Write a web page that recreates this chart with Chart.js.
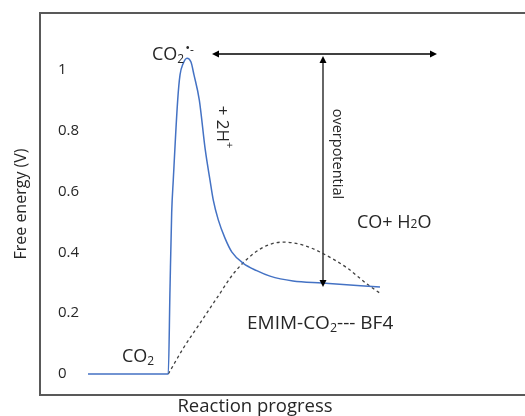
<!DOCTYPE html>
<html>
<head>
<meta charset="utf-8">
<script src="https://cdn.jsdelivr.net/npm/chart.js@4.4.1/dist/chart.umd.min.js"></script>
<style>
  html, body { margin: 0; padding: 0; background: #ffffff; }
  #wrap { width: 525px; height: 416px; }
</style>
</head>
<body>
<div id="wrap"><canvas id="c" width="525" height="416"></canvas></div>
<script>
// ---- data (reaction progress in arbitrary units, free energy in V) ----
const yTicks = [0, 0.2, 0.4, 0.6, 0.8, 1];
const yTickLabels = ['0', '0.2', '0.4', '0.6', '0.8', '1'];

const blueX = [9.9, 26.45, 26.8, 27.15, 27.48, 28.39, 28.87, 29.48, 30.31, 31.13, 31.75, 32.85, 34.08, 35.05, 35.73, 36.76, 38.14, 39.53, 41.92, 44.68, 47.42, 52.16, 58.14, 70.1];
const blueY = [0, 0, 0.276, 0.53, 0.638, 0.901, 0.984, 1.02, 1.039, 1.026, 0.984, 0.901, 0.737, 0.638, 0.572, 0.507, 0.447, 0.402, 0.364, 0.34, 0.322, 0.306, 0.299, 0.286];

const dashX = [26.45, 29.55, 32.99, 36.43, 40.21, 45.36, 50.1, 54.23, 58.14, 63.3, 67.42, 70.1];
const dashY = [0, 0.085, 0.167, 0.249, 0.3365, 0.411, 0.434, 0.424, 0.398, 0.349, 0.296, 0.266];

const xTitle = 'Reaction progress';
const yTitle = 'Free energy (V)';

const toPts = (xs, ys) => xs.map((x, i) => ({ x: x, y: ys[i] }));

const FONT = '"Open Sans", "Noto Sans", sans-serif';
const TXT = '#262626';

function arrowHead(ctx, x, y, dir) {
  const L = 7, W = 3.5;
  ctx.beginPath();
  if (dir === 'left') { ctx.moveTo(x, y); ctx.lineTo(x + L, y - W); ctx.lineTo(x + L, y + W); }
  if (dir === 'right') { ctx.moveTo(x, y); ctx.lineTo(x - L, y - W); ctx.lineTo(x - L, y + W); }
  if (dir === 'up') { ctx.moveTo(x, y); ctx.lineTo(x - W, y + L); ctx.lineTo(x + W, y + L); }
  if (dir === 'down') { ctx.moveTo(x, y); ctx.lineTo(x - W, y - L); ctx.lineTo(x + W, y - L); }
  ctx.closePath();
  ctx.fill();
}

function measureRich(ctx, parts) {
  let w = 0;
  parts.forEach(p => { ctx.font = p.size + 'px ' + FONT; w += ctx.measureText(p.t).width + (p.gap || 0); });
  return w;
}
// draws pieces [{t, size, dy}] left to right
function richText(ctx, x, y, parts) {
  let cx = x;
  parts.forEach(p => {
    ctx.font = p.size + 'px ' + FONT;
    ctx.fillText(p.t, cx, y + (p.dy || 0));
    cx += ctx.measureText(p.t).width + (p.gap || 0);
  });
}

const annotPlugin = {
  id: 'annot',
  afterDraw(chart) {
    const ctx = chart.ctx;
    const xs = chart.scales.x, ys = chart.scales.y;
    const a = chart.chartArea;
    const X = v => xs.getPixelForValue(v), Y = v => ys.getPixelForValue(v);
    ctx.save();
    // frame (top, left, bottom)
    ctx.strokeStyle = '#595959';
    ctx.lineWidth = 2;
    ctx.beginPath();
    ctx.moveTo(chart.width, a.top);
    ctx.lineTo(a.left, a.top);
    ctx.lineTo(a.left, a.bottom);
    ctx.lineTo(chart.width, a.bottom);
    ctx.stroke();

    // arrows
    ctx.strokeStyle = '#000';
    ctx.fillStyle = '#000';
    ctx.lineWidth = 1.5;
    const hy = Y(1.0526), hx1 = X(35.46), hx2 = X(81.86);
    ctx.beginPath(); ctx.moveTo(hx1 + 4, hy); ctx.lineTo(hx2 - 4, hy); ctx.stroke();
    arrowHead(ctx, hx1, hy, 'left');
    arrowHead(ctx, hx2, hy, 'right');
    const vx = X(58.35), vy1 = Y(1.0526) + 2, vy2 = Y(0.286);
    ctx.strokeStyle = '#333';
    ctx.beginPath(); ctx.moveTo(vx, vy1 + 4); ctx.lineTo(vx, vy2 - 4); ctx.stroke();
    arrowHead(ctx, vx, vy1, 'up');
    arrowHead(ctx, vx, vy2, 'down');

    // texts
    ctx.fillStyle = TXT;
    ctx.textBaseline = 'alphabetic';
    ctx.textAlign = 'left';
    richText(ctx, X(23.09), Y(1.054) + 6.5, [
      { t: 'CO', size: 18 }, { t: '2', size: 12, dy: 3, gap: 1 }, { t: '•', size: 13, dy: -8 }, { t: '-', size: 12, dy: -6 }
    ]);
    richText(ctx, X(16.91), Y(0.0625) + 6.5, [
      { t: 'CO', size: 18 }, { t: '2', size: 12, dy: 3 }
    ]);
    richText(ctx, X(42.68), Y(0.171) + 6.5, [
      { t: 'EMIM-CO', size: 19 }, { t: '2', size: 12.5, dy: 3 }, { t: '--- BF4', size: 19 }
    ]);
    richText(ctx, X(65.36), Y(0.503) + 6.5, [
      { t: 'CO+ H', size: 18 }, { t: '2', size: 12, dy: 0 }, { t: 'O', size: 18 }
    ]);

    // rotated texts
    ctx.save();
    ctx.translate(X(37.53), Y(0.8125));
    ctx.rotate(Math.PI / 2);
    ctx.textBaseline = 'middle';
    const p1 = [{ t: '+ 2H', size: 17 }, { t: '+', size: 11, dy: -7 }];
    richText(ctx, -measureRich(ctx, p1) / 2, 0, p1);
    ctx.restore();

    ctx.save();
    ctx.translate(X(61.24), Y(0.724));
    ctx.rotate(Math.PI / 2);
    ctx.textBaseline = 'middle';
    ctx.textAlign = 'center';
    ctx.font = '14.5px ' + FONT;
    ctx.fillText('overpotential', 0, 0);
    ctx.restore();

    // x title
    ctx.textAlign = 'center';
    ctx.textBaseline = 'middle';
    ctx.font = '18.5px ' + FONT;
    ctx.fillText(xTitle, 255, 407);
    ctx.restore();
  }
};

new Chart(document.getElementById('c'), {
  type: 'scatter',
  data: {
    datasets: [
      {
        label: 'CO2 pathway',
        data: toPts(blueX, blueY),
        showLine: true,
        borderColor: '#4472C4',
        borderWidth: 1.5,
        pointRadius: 0,
        cubicInterpolationMode: 'monotone',
        fill: false
      },
      {
        label: 'EMIM-CO2 pathway',
        data: toPts(dashX, dashY),
        showLine: true,
        borderColor: '#404040',
        borderWidth: 1.3,
        borderDash: [3, 3],
        pointRadius: 0,
        cubicInterpolationMode: 'monotone',
        fill: false
      }
    ]
  },
  options: {
    responsive: false,
    animation: false,
    events: [],
    layout: { padding: { top: 13, right: 0, left: 0, bottom: 0 } },
    plugins: { legend: { display: false }, tooltip: { enabled: false } },
    scales: {
      x: {
        type: 'linear',
        min: 0, max: 100,
        grid: { display: false },
        border: { display: false },
        ticks: { display: false },
        afterFit: s => { s.height = 21; s.paddingLeft = 0; s.paddingRight = 0; }
      },
      y: {
        type: 'linear',
        min: -0.069, max: 1.1875,
        grid: { display: false },
        border: { display: false },
        afterBuildTicks: s => { s.ticks = yTicks.map(v => ({ value: v })); },
        ticks: {
          mirror: true,
          padding: 18,
          color: TXT,
          font: { family: FONT, size: 15 },
          callback: (v) => { const i = yTicks.indexOf(v); return i >= 0 ? yTickLabels[i] : ''; }
        },
        title: {
          display: true,
          text: yTitle,
          color: TXT,
          font: { family: FONT, size: 16 },
          padding: { top: 12, bottom: 0 }
        },
        afterFit: s => { s.width = 40; s.paddingTop = 0; s.paddingBottom = 0; }
      }
    }
  },
  plugins: [annotPlugin]
});
</script>
</body>
</html>
